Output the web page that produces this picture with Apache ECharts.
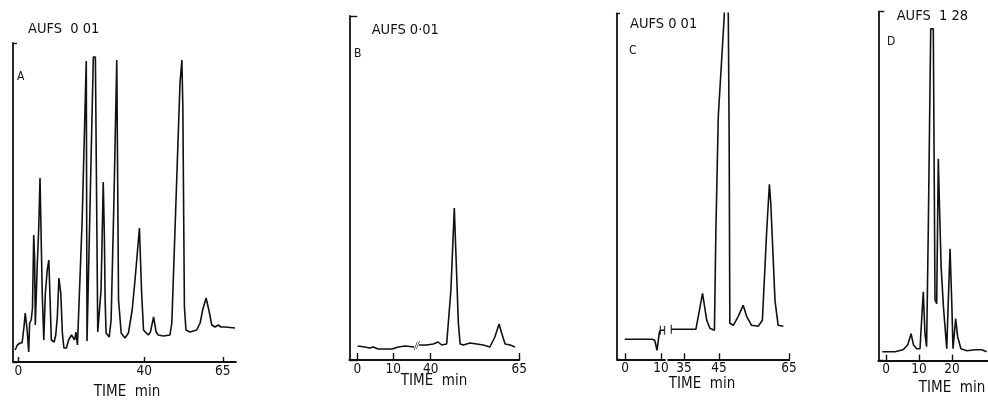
<!DOCTYPE html>
<html><head><meta charset="utf-8">
<script src="https://cdn.jsdelivr.net/npm/echarts@6/dist/echarts.min.js"></script>
<style>html,body{margin:0;padding:0;background:#fff}#c{width:988px;height:407px}</style>
</head><body><div id="c"></div>
<script>
// ---------- DATA (time in min, detector response in arbitrary units) ----------
const timeA = [-1.0,-0.3,0.5,1.2,1.8,2.2,2.8,3.3,3.6,4.1,4.5,4.9,5.2,5.4,6.0,6.5,6.9,7.2,7.6,8.1,8.6,9.2,9.7,10.1,10.5,11.4,11.9,12.4,12.9,13.5,14.0,14.5,15.3,16.0,16.9,17.4,17.9,18.3,18.8,19.3,20.3,21.6,21.78,21.84,23.85,24.5,25.25,25.8,26.3,27.0,27.35,27.6,27.9,28.9,29.5,30.4,31.3,31.8,31.86,32.7,33.9,35.0,36.2,37.1,38.5,39.2,39.8,41.3,42.0,43.0,43.8,44.5,46.1,48.2,48.8,51.4,52.0,52.3,52.8,53.3,54.6,56.7,57.8,58.6,59.7,60.7,61.5,62.5,63.6,64.4,65.7,68.9];
const signalA = [12,17,19,19,35,49,32,10,39,42,54,127,102,37,95,135,184,182,69,22,69,92,102,62,22,20,27,45,84,69,29,14,14,22,27,29,22,30,17,17,142,301,302,21,305,305,30,29,72,180,127,62,29,25,42,162,302,302,62,29,24,29,52,82,134,69,32,27,30,45,30,27,26,27,39,279,302,255,55,32,30,32,39,52,64,50,37,35,37,35,35,34];

const timeB1 = [0.1,2.1,3.5,4.4,5.8,7.7,9.6,11.4,13.3,15.8];
const signalB1 = [14,13,12,13,11,11,11,13,14,13];
const timeB2 = [36.7,38.9,40.7,42.1,43.1,44.5,45.7,46.66,47.14,47.8,48.3,49.2,51.1,53.0,54.8,56.7,58.1,59.3,60.0,61.0,62.4,63.8];
const signalB2 = [15,15,16,18,15,16,70,152,152,37,16,15,17,16,15,13,23,36,27,16,15,13];

const timeC1 = [-0.1,3.8,7.5,8.25,8.9,9.5,9.81,10.97];
const signalC1 = [20,20,20,19,9,26,29,29];
const timeC2 = [31.4,32.1,35.8,38.4,40.3,41.5,42.4,43.7,44.1,44.8,46.5,46.9,47.3,47.66,47.9,48.1,49.1,50.5,51.9,52.9,54.3,56.2,57.4,58.6,59.4,59.8,61.0,61.9,63.4];
const signalC2 = [30,30,30,30,66,39,31,29,126,243,343,420,420,343,226,36,34,43,54,43,34,33,39,126,175,156,59,34,33];

const timeD = [-1.1,2.7,5.2,6.6,7.6,8.3,9.3,10.3,10.8,11.3,11.8,12.3,12.8,13.55,14.33,14.85,15.36,15.85,16.15,16.7,17.4,18.4,19.4,19.9,20.3,21.1,21.7,22.7,24.5,27.0,29.0,30.5];
const signalD = [9,9,11,16,27,16,12,12,41,69,27,14,128,332,332,61,57,202,161,94,54,12,112,61,12,42,24,12,10,11,11,9];

// axis tick labels
const ticksA = [0, 40, 65];
const ticksB1 = [0, 10];
const ticksB2 = [40, 65];
const ticksC1 = [0, 10];
const ticksC2 = [35, 45, 65];
const ticksD = [0, 10, 20];

// trace break marks (time, response)
const breakB = [[16.2, 14], [36.4, 15]];
const breakC = [[9.81, 29], [10.97, 29], [31.37, 30]];

const aufsLabels = ['AUFS  0 01', 'AUFS 0·01', 'AUFS 0 01', 'AUFS  1 28'];
const panelLetters = ['A', 'B', 'C', 'D'];
const axisTitle = 'TIME  min';

// ---------- CHART ----------
const FONT = "'DejaVu Sans Condensed', 'Liberation Sans Narrow', sans-serif";
const INK = '#111111';
const zip = (t, v) => t.map((x, i) => [x, v[i]]);

const grids = [
  {left: 13, top: 43, width: 223, height: 319},      // A
  {left: 349.3, top: 16, width: 67.2, height: 344},  // B (0-16)
  {left: 416.5, top: 16, width: 102.8, height: 344}, // B (36-65)
  {left: 617, top: 13.3, width: 48, height: 346},    // C (0-11)
  {left: 668, top: 13.3, width: 121.3, height: 346}, // C (30-65)
  {left: 878.3, top: 11.7, width: 109.7, height: 349} // D
];

function xAx(gi, min, max, ticks, len) {
  return {type: 'value', gridIndex: gi, min: min, max: max,
    axisLine: {show: true, onZero: false, lineStyle: {color: INK, width: 1.8}},
    axisTick: {show: true, inside: true, length: len, customValues: ticks, lineStyle: {color: INK, width: 1.4}},
    axisLabel: {show: true, customValues: ticks, margin: 2, color: INK, fontSize: 13.5, fontFamily: FONT},
    splitLine: {show: false}};
}
function yAx(gi, max, len, show) {
  return {type: 'value', gridIndex: gi, min: 0, max: max, interval: max,
    axisLine: {show: show, onZero: false, lineStyle: {color: INK, width: 1.8}},
    axisTick: {show: show, inside: true, length: len, lineStyle: {color: INK, width: 1.4}},
    axisLabel: {show: false}, splitLine: {show: false}};
}
function trace(gi, t, v) {
  return {type: 'line', xAxisIndex: gi, yAxisIndex: gi, data: zip(t, v), showSymbol: false,
    symbol: 'none', lineStyle: {color: INK, width: 1.6}, silent: true, animation: false, clip: true};
}
function marks(gi, pts, sym, size) {
  return {type: 'scatter', xAxisIndex: gi, yAxisIndex: gi, data: pts, symbol: sym, symbolSize: size,
    itemStyle: {color: INK}, silent: true, animation: false};
}

const titles = [];
const aufsPos = [[28, 22], [371.7, 23], [630, 17], [896.7, 9]];
const letterPos = [[17, 71], [354, 48], [629, 45], [887, 36]];
const timePos = [[127, 385], [434, 374], [702, 377], [952, 381]];
for (let i = 0; i < 4; i++) {
  titles.push({text: aufsLabels[i], left: aufsPos[i][0], top: aufsPos[i][1], padding: 0,
    textStyle: {fontSize: 14.5, fontWeight: 'normal', color: INK, fontFamily: FONT}});
  titles.push({text: panelLetters[i], left: letterPos[i][0], top: letterPos[i][1], padding: 0,
    textStyle: {fontSize: 12, fontWeight: 'normal', color: INK, fontFamily: FONT}});
  titles.push({text: axisTitle, left: timePos[i][0], top: timePos[i][1], padding: 0, textAlign: 'center',
    textStyle: {fontSize: 15, fontWeight: 'normal', color: INK, fontFamily: FONT}});
}

const chart = echarts.init(document.getElementById('c'), null, {renderer: 'canvas'});
chart.setOption({
  backgroundColor: '#ffffff',
  animation: false,
  title: titles,
  grid: grids,
  xAxis: [
    xAx(0, -1.69, 69.2, ticksA, 5),
    xAx(1, -2.22, 16.44, ticksB1, 7),
    xAx(2, 35.99, 65, ticksB2, 7),
    xAx(3, -2.22, 11.11, ticksC1, 6),
    xAx(4, 30.43, 65.09, ticksC2, 6),
    xAx(5, -2.33, 30.9, ticksD, 6)
  ],
  yAxis: [
    yAx(0, 319, 4, true),
    yAx(1, 344, 8, true),
    yAx(2, 344, 0, false),
    yAx(3, 346, 3, true),
    yAx(4, 346, 0, false),
    yAx(5, 349, 6, true)
  ],
  series: [
    trace(0, timeA, signalA),
    trace(1, timeB1, signalB1),
    trace(2, timeB2, signalB2),
    trace(3, timeC1, signalC1),
    trace(4, timeC2, signalC2),
    trace(5, timeD, signalD),
    marks(1, [breakB[0]], 'path://M0,10 L4,0 L5,0 L1,10 Z', [4, 8]),
    marks(2, [breakB[1]], 'path://M0,10 L4,0 L5,0 L1,10 Z', [4, 8]),
    marks(3, breakC.slice(0, 2), 'rect', [1.3, 9]),
    marks(4, breakC.slice(2), 'rect', [1.3, 9])
  ]
});
</script></body></html>
